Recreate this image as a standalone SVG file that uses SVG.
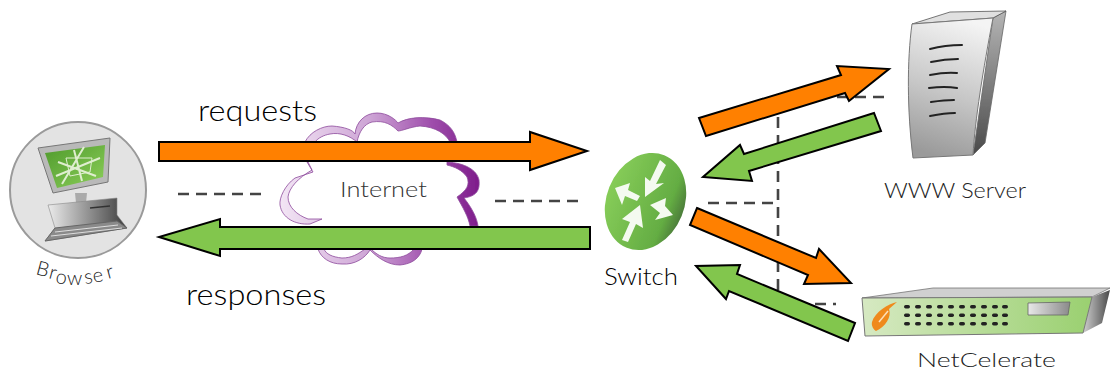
<svg xmlns="http://www.w3.org/2000/svg" width="1110" height="372" viewBox="0 0 1110 372">
<style>
text{font-family:"Lato","Open Sans","Liberation Sans",sans-serif;font-weight:300}
.big{font-size:30px;fill:#000}
.lab{font-size:22px;fill:#222}
.or{fill:#ff8000;stroke:#000;stroke-width:2;stroke-linejoin:miter}
.gr{fill:#82c64d;stroke:#000;stroke-width:2;stroke-linejoin:miter}
.dash{fill:none;stroke:#444;stroke-width:2.6;stroke-dasharray:11 7}
.cl{fill:url(#cloudG);stroke:#8d4a9c;stroke-width:.8}
.sl{fill:none;stroke:#222;stroke-width:2;stroke-linecap:round}
.soft{filter:url(#soft)}
</style>
<defs>
<filter id="soft" x="-5%" y="-5%" width="110%" height="110%"><feGaussianBlur stdDeviation=".5"/></filter>
<linearGradient id="cloudG" gradientUnits="userSpaceOnUse" x1="280" y1="0" x2="480" y2="0"><stop offset="0" stop-color="#f3e6f5"/><stop offset=".45" stop-color="#cda4d5"/><stop offset=".75" stop-color="#a050ad"/><stop offset="1" stop-color="#7d1a8a"/></linearGradient>
<linearGradient id="srv" x1="0.6" y1="0" x2="0.4" y2="1"><stop offset="0" stop-color="#f4f4f4"/><stop offset=".55" stop-color="#c6c6c6"/><stop offset="1" stop-color="#9a9a9a"/></linearGradient>
<linearGradient id="srvS" x1="0" y1="0" x2="0" y2="1"><stop offset="0" stop-color="#b5b5b5"/><stop offset="1" stop-color="#4a4a4a"/></linearGradient>
<linearGradient id="pc" x1="0" y1="0" x2="1" y2="0"><stop offset="0" stop-color="#f2f2f2"/><stop offset="1" stop-color="#3c3c3c"/></linearGradient>
<linearGradient id="scr" x1="0" y1="0" x2="1" y2="1"><stop offset="0" stop-color="#4f9a2c"/><stop offset="1" stop-color="#8ccf5a"/></linearGradient>
<linearGradient id="sw" x1="0" y1="0" x2="1" y2="0"><stop offset="0" stop-color="#86cc58"/><stop offset=".8" stop-color="#64ad43"/><stop offset="1" stop-color="#4c7d3a"/></linearGradient>
<linearGradient id="net" x1="0" y1="0" x2="1" y2="0"><stop offset="0" stop-color="#d6e9c2"/><stop offset="1" stop-color="#9ad070"/></linearGradient>
<linearGradient id="netS" x1="0" y1="0" x2="1" y2="0"><stop offset="0" stop-color="#d0d0d0"/><stop offset="1" stop-color="#4a4a4a"/></linearGradient>
<linearGradient id="slot" x1="0" y1="0" x2="1" y2="0"><stop offset="0" stop-color="#e8e8e8"/><stop offset="1" stop-color="#8a8a8a"/></linearGradient>
</defs>

<g id="connectors">
<path class="dash" d="M178 194H263"/>
<path class="dash" d="M495 201H582"/>
<path class="dash" d="M708 203H778"/>
<path class="dash" d="M778 290V97H888"/>
<path class="dash" d="M815 304H836"/>
</g>

<g id="internet">
<g class="soft">
<path class="cl" d="M305 142C310 132 322 126 332 126C345 127 353 130 355 134C356 122 365 113 377 113C388 113 396 120 398 123C408 117 425 116 440 120C450 125 455 132 457 142H450C446 134 436 127 420 126C410 127 402 131 398 131C392 125 385 120 372 122C364 124 359 132 357 142C350 136 340 132 330 134C324 135 318 138 315 142Z"/>
<path class="cl" d="M307 162L313 172L295 178C285 185 279 198 280 205C282 218 295 225 310 224L322 219L308 219C297 215 288 207 288 197C289 188 298 178 312 170L308 162Z"/>
<path class="cl" d="M447 162C465 163 477 170 479 180C480 190 477 196 464 198C472 208 477 218 478 226H470C468 216 463 208 457 197C467 190 470 185 467 177C462 170 455 167 447 165Z"/>
<path class="cl" d="M318 249C321 258 330 264 342 264C355 265 365 258 370 250C378 258 388 265 400 265C412 264 420 258 422 249H414C408 256 400 258 390 258C382 258 376 254 371 249H365C358 254 352 258 342 258C332 257 326 254 324 249Z"/>
</g>
<text x="340" y="197" style="font-size:21px;fill:#333" textLength="87" lengthAdjust="spacingAndGlyphs">Internet</text>
</g>

<g id="browser">
<g class="soft">
<circle cx="78" cy="190" r="68" fill="#e3e3e3" stroke="#9a9a9a" stroke-width="2"/>
<path d="M38 148L110 138L108 182L53 193Z" fill="#b9b9b9" stroke="#777"/>
<path d="M45 153L105 145L103 177L57 188Z" fill="url(#scr)"/>
<path d="M58 162L96 176M62 184L84 147M56 176L100 158M74 150L82 181" stroke="#dfeecf" stroke-width="2" fill="none"/>
<path d="M66 158L92 158L90 172L70 176Z" stroke="#dfeecf" stroke-width="1" fill="none"/>
<path d="M75 193H87L86 203H76Z" fill="#aaa"/>
<path d="M48 205L117 198V215L127 228L45 241L55 228Z" fill="url(#pc)" stroke="#888" stroke-width=".6"/>
<path d="M90 208L110 206" stroke="#333" stroke-width="1.5"/>
<path d="M55 228L117 221L127 228L45 241Z" fill="#8a8a8a" stroke="#666"/>
<path d="M55 232L118 225M51 236L122 228" stroke="#ddd" stroke-width="1"/>
</g>
<g fill="#222" style="font-size:20px">
<text transform="translate(35 274) rotate(15)">B</text>
<text transform="translate(48 278) rotate(15)">r</text>
<text transform="translate(55 283) rotate(8)">o</text>
<text transform="translate(67 285)">w</text>
<text transform="translate(85 284) rotate(-8)">s</text>
<text transform="translate(94 283) rotate(-12)">e</text>
<text transform="translate(108 279) rotate(-15)">r</text>
</g>
</g>

<g id="switch">
<g class="soft">
<ellipse cx="645.500" cy="201.500" rx="39" ry="50" transform="rotate(22 645.5 201.500)" fill="url(#sw)"/>
<g fill="#f4faf0">
<path d="M660 160L666 165L656 184L664 183L645 197L645 177L650 181Z"/>
<path d="M615 188L630 183L628 190L640 196L637 201L625 196L622 205Z"/>
<path d="M650 205L666 198L665 206L673 215L655 220L660 213Z"/>
<path d="M640 205L643 228L636 224L628 242L622 240L630 222L622 219Z"/>
</g>
</g>
<text x="604" y="285" class="lab" style="font-size:23px;fill:#000" textLength="74" lengthAdjust="spacingAndGlyphs">Switch</text>
</g>

<g id="www-server">
<g class="soft">
<path d="M993 18L1006 11L985 143L973 155Z" fill="url(#srvS)" stroke="#666" stroke-width=".8"/>
<path d="M912 24L950 12L1006 11L993 18Z" fill="#e0e0e0" stroke="#555" stroke-width=".8"/>
<path d="M912 24L993 18C983 70 975 120 973 155L913 158C907 110 907 60 912 24Z" fill="url(#srv)" stroke="#777"/>
<path class="sl" d="M930 49Q945 45 962 45M931 62Q945 59 958 59M930 75Q945 72 957 73M929 88Q945 86 957 88M931 102Q945 100 954 100M930 116Q945 113 955 113"/>
</g>
<text x="884" y="198" class="lab" textLength="142" lengthAdjust="spacingAndGlyphs">WWW Server</text>
</g>

<g id="netcelerate">
<g class="soft">
<path d="M862 298L933 288H1110L1092 297Z" fill="#d0d0d0" stroke="#666" stroke-width=".7"/>
<path d="M1092 297L1110 290L1102 323L1083 333Z" fill="url(#netS)"/>
<path d="M862 298L1092 297L1083 333L865 336Z" fill="url(#net)" stroke="#777"/>
<path d="M897 302C888 304 875 312 872 322C871 326 874 330 876 331C885 327 892 317 889 309Z" fill="#ef8a1f"/>
<path d="M879 322L888 311" stroke="#fde0b8" stroke-width="1.5"/>
<g fill="#222"><g id="rowA">
<rect x="904" y="305" width="6" height="3.500" rx="1.700"/><rect x="915" y="305" width="6" height="3.500" rx="1.700"/><rect x="926" y="305" width="6" height="3.500" rx="1.700"/><rect x="937" y="305" width="6" height="3.500" rx="1.700"/><rect x="948" y="305" width="6" height="3.500" rx="1.700"/><rect x="959" y="305" width="6" height="3.500" rx="1.700"/><rect x="970" y="305" width="6" height="3.500" rx="1.700"/><rect x="981" y="305" width="6" height="3.500" rx="1.700"/><rect x="992" y="305" width="6" height="3.500" rx="1.700"/><rect x="1002" y="305" width="6" height="3.500" rx="1.700"/>
</g>
<use href="#rowA" y="8.500"/><use href="#rowA" y="17"/></g>
<path d="M1028 303L1070 302L1068 315H1028Z" fill="url(#slot)" stroke="#666" stroke-width=".8"/>
</g>
<text x="917" y="367" class="lab" style="font-size:20.500px" textLength="139" lengthAdjust="spacingAndGlyphs">NetCelerate</text>
</g>

<g id="arrows">
<path class="or" d="M159 142H530V132L587 151L530 170V161H159Z"/>
<path class="gr" d="M590 227H220V219L159 237L220 256V249H590Z"/>
<path class="or" d="M699 118L841 75L837 66L889 69L849 101L845 93L706 136Z"/>
<path class="gr" d="M874 113L744 154L740 145L703 177L752 181L749 171L881 131Z"/>
<path class="or" d="M697 208L816 258L819 249L851 283L804 284L808 275L690 225Z"/>
<path class="gr" d="M855 323L737 274L740 265L696 266L726 299L729 291L848 341Z"/>
</g>

<text x="198" y="121" class="big" textLength="119" lengthAdjust="spacingAndGlyphs">requests</text>
<text x="186" y="305" class="big" textLength="140" lengthAdjust="spacingAndGlyphs">responses</text>
</svg>
